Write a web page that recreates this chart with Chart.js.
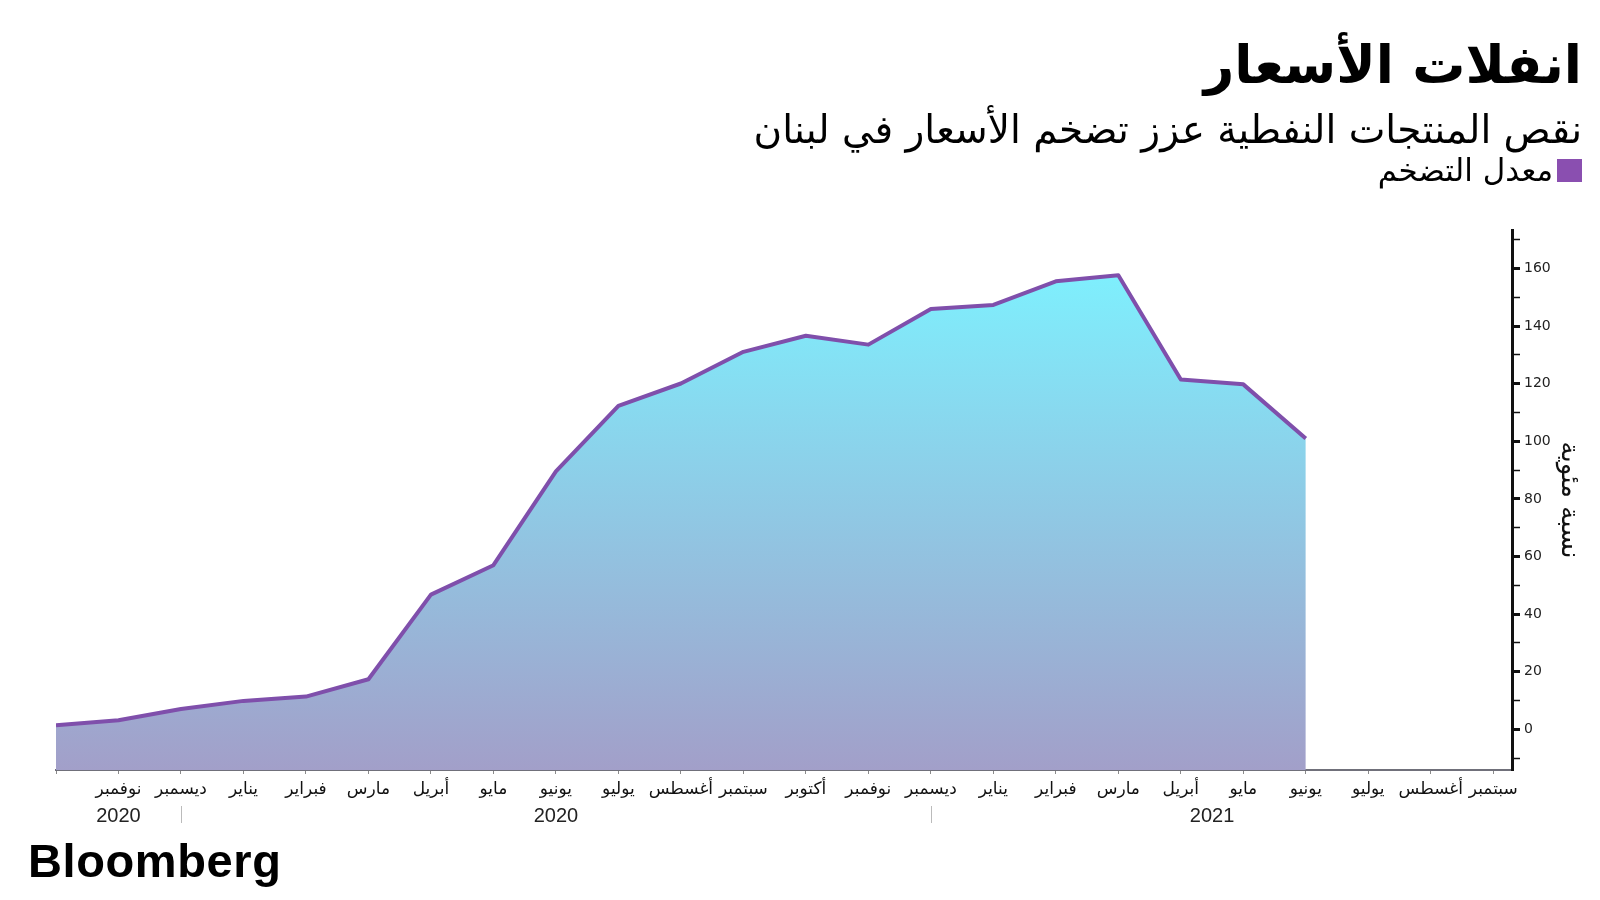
<!DOCTYPE html>
<html><head><meta charset="utf-8">
<script src="https://cdn.jsdelivr.net/npm/chart.js@4.4.0/dist/chart.umd.min.js"></script>
<style>
html,body{margin:0;padding:0;background:#fff;width:1600px;height:900px;overflow:hidden;}
#wrap{position:relative;width:1600px;height:900px;}
#c{position:absolute;left:0;top:0;}
.t{position:absolute;right:18px;direction:rtl;font-family:"DejaVu Sans",sans-serif;color:#000;white-space:nowrap;line-height:1;}
#title{top:38px;font-size:53px;font-weight:bold;}
#sub{top:110px;font-size:39px;}
#legend{top:155px;font-size:31px;display:flex;align-items:center;}
#legend .sw{width:25px;height:23px;background:#8a4fb0;margin-left:4px;}
#bb{position:absolute;left:28px;top:837px;font-family:"Liberation Sans",Arial,sans-serif;font-weight:bold;font-size:47px;line-height:1;color:#000;letter-spacing:0.6px;}
</style></head>
<body><div id="wrap">
<canvas id="c" width="1600" height="900"></canvas>
<div class="t" id="title">انفلات الأسعار</div>
<div class="t" id="sub">نقص المنتجات النفطية عزز تضخم الأسعار في لبنان</div>
<div class="t" id="legend"><span class="sw"></span><span>معدل التضخم</span></div>
<div id="bb">Bloomberg</div>
</div>
<script>
const monthLabels = ['', 'نوفمبر','ديسمبر','يناير','فبراير','مارس','أبريل','مايو','يونيو','يوليو','أغسطس','سبتمبر','أكتوبر','نوفمبر','ديسمبر','يناير','فبراير','مارس','أبريل','مايو','يونيو','يوليو','أغسطس','سبتمبر'];
const inflation = [1.4, 3.2, 7.1, 9.9, 11.4, 17.4, 46.8, 57.0, 89.6, 112.3, 120.1, 131.1, 136.7, 133.6, 146.0, 147.4, 155.6, 157.7, 121.5, 119.8, 101.0];
const yearLabels = ['2020', '2020', '2021'];
const yearCenters = [1, 8, 18.5];
const yearSeparators = [2, 14];
const seriesName = 'معدل التضخم';
const yTitle = 'نسبة مئوية';

const yearPlugin = {
  id: 'years',
  afterDraw(chart) {
    const {ctx, scales: {x}} = chart;
    ctx.save();
    ctx.font = '20px "Liberation Sans", Arial, sans-serif';
    ctx.fillStyle = '#222';
    ctx.textAlign = 'center';
    ctx.textBaseline = 'middle';
    yearLabels.forEach((t, i) => ctx.fillText(t, x.getPixelForValue(yearCenters[i]), x.top + 46));
    ctx.strokeStyle = '#bbbbbb';
    ctx.lineWidth = 1;
    yearSeparators.forEach(v => {
      const px = Math.round(x.getPixelForValue(v)) + 0.5;
      ctx.beginPath(); ctx.moveTo(px, x.top + 36); ctx.lineTo(px, x.top + 53); ctx.stroke();
    });
    ctx.restore();
  }
};

new Chart(document.getElementById('c'), {
  type: 'line',
  data: {
    datasets: [{
      label: seriesName,
      data: inflation.map((v, i) => ({x: i, y: v})),
      borderColor: '#7f4fab',
      borderWidth: 4,
      borderJoinStyle: 'round',
      pointRadius: 0,
      tension: 0,
      fill: 'start',
      backgroundColor: (ctx) => {
        const chart = ctx.chart;
        const {chartArea, scales} = chart;
        if (!chartArea) return 'rgba(0,0,0,0)';
        const g = chart.ctx.createLinearGradient(0, scales.y.getPixelForValue(160), 0, chartArea.bottom);
        g.addColorStop(0, '#7EF0FE');
        g.addColorStop(1, '#A29FC9');
        return g;
      }
    }]
  },
  options: {
    responsive: false,
    animation: false,
    layout: {padding: {left: 56, top: 230, right: 16, bottom: 0}},
    plugins: {legend: {display: false}, tooltip: {enabled: false}},
    scales: {
      x: {
        type: 'linear', position: 'bottom', min: 0, max: 23.3,
        afterFit: s => { s.height = 130; },
        grid: {drawOnChartArea: false, drawTicks: true, tickLength: 4, color: '#8a8a8a', lineWidth: 1},
        border: {display: true, color: '#70707a', width: 2},
        ticks: {
          stepSize: 1, autoSkip: false, maxRotation: 0, minRotation: 0, includeBounds: false, maxTicksLimit: 100,
          callback: v => monthLabels[v] ?? '',
          font: {family: '"DejaVu Sans", sans-serif', size: 17}, color: '#111', padding: 5
        }
      },
      y: {
        type: 'linear', position: 'right', min: -14.1, max: 173.4,
        afterFit: s => { s.width = 72; },
        grid: {drawOnChartArea: false, drawTicks: true, tickLength: 8, color: '#111',
          tickWidth: c => (c.tick && c.tick.value % 20 === 0) ? 3 : 1.5},
        border: {display: true, color: '#111', width: 3},
        ticks: {
          stepSize: 10, includeBounds: false, maxTicksLimit: 100,
          callback: v => (v % 20 === 0 ? String(v) : ''),
          font: {family: '"DejaVu Sans", sans-serif', size: 14}, color: '#222', padding: 4
        },
        title: {display: true, text: yTitle, font: {family: '"DejaVu Sans", sans-serif', size: 26}, color: '#111', padding: 0}
      }
    }
  },
  plugins: [yearPlugin]
});
</script>
</body></html>
